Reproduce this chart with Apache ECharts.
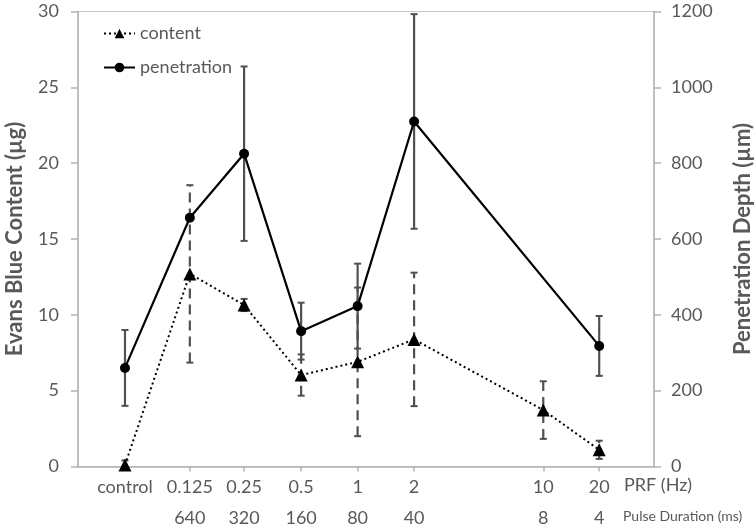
<!DOCTYPE html>
<html>
<head>
<meta charset="utf-8">
<script src="https://cdn.jsdelivr.net/npm/echarts@6/dist/echarts.min.js"></script>
<style>
  html, body { margin: 0; padding: 0; background: #ffffff; }
  #chart { width: 756px; height: 530px; }
</style>
</head>
<body>
<div id="chart"></div>
<script>
// ---- data ----
const categories     = ['control', '0.125', '0.25', '0.5', '1', '2', '10', '20'];   // PRF (Hz)
const pulseDurations = ['', '640', '320', '160', '80', '40', '8', '4'];            // Pulse Duration (ms)
const xPositions     = [-4.16, -3, -2.03, -1.01, 0, 1.01, 3.32, 4.32];              // position on the (log-like) x axis
const contentValues  = [0.1, 12.7, 10.65, 6.03, 6.9, 8.38, 3.72, 1.1];             // µg
const contentErrors  = [0.3, 5.85, 0.4, 1.36, 4.9, 4.4, 1.9, 0.6];
const penetrationValues = [260, 656, 825, 357, 423, 910, null, 318];                // µm
const penetrationErrors = [100, 0, 230, 75, 112, 283, null, 79];
const leftTicks  = [0, 5, 10, 15, 20, 25, 30];
const rightTicks = [0, 200, 400, 600, 800, 1000, 1200];

const FONT = 'Lato, "Open Sans", sans-serif';
const TXT = '#595959';
const AXIS = '#b3b3b3';
const ERR = '#505050';

const contentData = xPositions.map((x, i) => [x, contentValues[i]]);
const penetrationData = xPositions.map((x, i) => [x, penetrationValues[i]]);
const contentErrData = xPositions.map((x, i) => [x, contentValues[i] - contentErrors[i], contentValues[i] + contentErrors[i]]);
const penetrationErrData = [];
xPositions.forEach((x, i) => {
  if (penetrationValues[i] != null && penetrationErrors[i]) {
    penetrationErrData.push([x, penetrationValues[i] - penetrationErrors[i], penetrationValues[i] + penetrationErrors[i]]);
  }
});

function errorRenderer(dash) {
  return function (params, api) {
    const x = api.value(0);
    const lo = api.coord([x, api.value(1)]);
    const hi = api.coord([x, api.value(2)]);
    const hw = 3.5;
    return {
      type: 'group',
      children: [
        { type: 'line', shape: { x1: lo[0], y1: lo[1], x2: hi[0], y2: hi[1] },
          style: { stroke: ERR, lineWidth: 2.2, lineDash: dash } },
        { type: 'line', shape: { x1: lo[0] - hw, y1: lo[1], x2: lo[0] + hw, y2: lo[1] },
          style: { stroke: ERR, lineWidth: 2 } },
        { type: 'line', shape: { x1: hi[0] - hw, y1: hi[1], x2: hi[0] + hw, y2: hi[1] },
          style: { stroke: ERR, lineWidth: 2 } }
      ]
    };
  };
}

const chart = echarts.init(document.getElementById('chart'), null, { renderer: 'canvas' });

chart.setOption({
  animation: false,
  backgroundColor: '#ffffff',
  textStyle: { fontFamily: FONT },
  grid: {
    left: 78, right: 102, top: 11.5, bottom: 63.5,
    containLabel: false, outerBoundsMode: 'none',
    show: true, borderColor: '#c8c8c8', borderWidth: 1
  },
  legend: {
    data: ['content', 'penetration'],
    orient: 'vertical',
    left: 103, top: 24.5, padding: 0,
    itemWidth: 31, itemHeight: 12, itemGap: 16,
    textStyle: { fontFamily: FONT, fontSize: 18, color: TXT }
  },
  xAxis: {
    type: 'value',
    min: -5, max: 5.3,
    splitLine: { show: false },
    axisLine: { show: true, onZero: false, lineStyle: { color: AXIS, width: 1.5 } },
    axisTick: { show: true, length: 5, lineStyle: { color: AXIS, width: 1.5 },
                customValues: xPositions.slice(1) },
    axisLabel: {
      customValues: xPositions,
      margin: 5,
      fontFamily: FONT, fontSize: 18, color: TXT, lineHeight: 31,
      formatter: function (v) {
        let idx = 0, best = Infinity;
        xPositions.forEach((p, i) => { const d = Math.abs(p - v); if (d < best) { best = d; idx = i; } });
        return pulseDurations[idx] ? categories[idx] + '\n' + pulseDurations[idx] : categories[idx];
      }
    }
  },
  yAxis: [
    {
      type: 'value', min: 0, max: 30, interval: 5, position: 'left',
      splitLine: { show: false },
      axisLine: { show: true, onZero: false, lineStyle: { color: AXIS, width: 1.5 } },
      axisTick: { show: true, length: 7, lineStyle: { color: AXIS, width: 1.5 } },
      axisLabel: { margin: 19, fontFamily: FONT, fontSize: 18, color: TXT,
                   customValues: leftTicks, formatter: v => String(v) },
      name: 'Evans Blue Content (µg)',
      nameLocation: 'middle', nameRotate: 90, nameGap: 52,
      nameTextStyle: { fontFamily: FONT, fontSize: 22, fontWeight: 'bold', color: TXT }
    },
    {
      type: 'value', min: 0, max: 1200, interval: 200, position: 'right',
      splitLine: { show: false },
      axisLine: { show: true, onZero: false, lineStyle: { color: AXIS, width: 1.5 } },
      axisTick: { show: true, length: 7, lineStyle: { color: AXIS, width: 1.5 } },
      axisLabel: { margin: 17, fontFamily: FONT, fontSize: 18, color: TXT,
                   customValues: rightTicks, formatter: v => String(v) },
      name: 'Penetration Depth (µm)',
      nameLocation: 'middle', nameRotate: 90, nameGap: 78,
      nameTextStyle: { fontFamily: FONT, fontSize: 22, fontWeight: 'bold', color: TXT }
    }
  ],
  graphic: [
    { type: 'text', left: 624, top: 476,
      style: { text: 'PRF (Hz)', fontFamily: FONT, fontSize: 18, fill: TXT } },
    { type: 'text', left: 623, top: 509,
      style: { text: 'Pulse Duration (ms)', fontFamily: FONT, fontSize: 14, fill: TXT } }
  ],
  series: [
    {
      name: 'contentErr', type: 'custom', yAxisIndex: 0, z: 1,
      renderItem: errorRenderer([10, 6]),
      encode: { x: 0, y: [1, 2] },
      data: contentErrData, silent: true
    },
    {
      name: 'penetrationErr', type: 'custom', yAxisIndex: 1, z: 1,
      renderItem: errorRenderer(null),
      encode: { x: 0, y: [1, 2] },
      data: penetrationErrData, silent: true
    },
    {
      name: 'content', type: 'line', yAxisIndex: 0, z: 3,
      data: contentData,
      symbol: 'triangle', symbolSize: 13, showSymbol: true,
      lineStyle: { color: '#000', width: 2, type: [2, 3] },
      itemStyle: { color: '#000' }
    },
    {
      name: 'penetration', type: 'line', yAxisIndex: 1, z: 3,
      data: penetrationData, connectNulls: true,
      symbol: 'circle', symbolSize: 10, showSymbol: true,
      lineStyle: { color: '#000', width: 2.2 },
      itemStyle: { color: '#000' }
    }
  ]
});
</script>
</body>
</html>
